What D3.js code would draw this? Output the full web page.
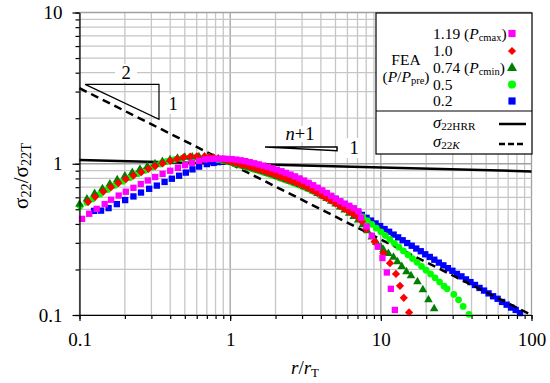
<!DOCTYPE html>
<html>
<head>
<meta charset="utf-8">
<script src="https://cdn.jsdelivr.net/npm/d3@7"></script>
<style>
  body { margin: 0; background: #fff; }
  svg text { font-family: "Liberation Serif", "Times New Roman", serif; fill: #000; }
</style>
</head>
<body>
<div id="chart"></div>
<script>
// FEA data, [r/rT, sigma22/sigma22T]
const fea119 = [
  [0.104,0.432],[0.116,0.467],[0.130,0.503],[0.147,0.541],[0.162,0.578],[0.182,0.616],[0.203,0.653],[0.228,0.693],
  [0.255,0.734],[0.284,0.775],[0.318,0.817],[0.356,0.858],[0.400,0.899],[0.450,0.940],[0.502,0.980],[0.557,1.015],[0.622,1.045],
  [0.676,1.068],[0.724,1.074],[0.776,1.078],[0.832,1.080],[0.891,1.080],[0.955,1.077],[1.023,1.073],[1.096,1.065],[1.175,1.054],
  [1.259,1.040],[1.349,1.024],[1.445,1.007],[1.549,0.990],[1.660,0.972],[1.778,0.953],[1.905,0.933],[2.042,0.913],[2.188,0.892],
  [2.344,0.870],[2.512,0.848],[2.692,0.825],[2.884,0.800],[3.090,0.774],[3.311,0.748],[3.548,0.721],[3.802,0.694],[4.074,0.667],
  [4.365,0.641],[4.677,0.614],[5.012,0.588],[5.370,0.565],[5.754,0.545],[6.166,0.527],[6.607,0.508],[7.079,0.485],
  [7.40,0.440],[8.05,0.385],[8.71,0.334],[9.55,0.283],[10.25,0.238],[10.96,0.191],[11.65,0.149],[12.39,0.108]
];
const fea100 = [
  [0.114,0.560],[0.127,0.605],[0.144,0.655],[0.162,0.700],[0.181,0.745],[0.203,0.790],[0.228,0.835],[0.257,0.880],
  [0.287,0.925],[0.318,0.965],[0.356,1.005],[0.400,1.045],[0.443,1.075],[0.490,1.100],[0.543,1.115],[0.601,1.120],
  [0.676,1.118],[0.724,1.110],[0.776,1.098],[0.832,1.084],[0.891,1.068],[0.955,1.050],[1.023,1.030],[1.096,1.010],[1.175,0.990],
  [1.259,0.970],[1.349,0.953],[1.445,0.935],[1.549,0.916],[1.660,0.897],[1.778,0.877],[1.905,0.857],[2.042,0.836],[2.188,0.815],
  [2.344,0.795],[2.512,0.775],[2.692,0.755],[2.884,0.735],[3.090,0.713],[3.311,0.690],[3.548,0.665],[3.802,0.640],[4.074,0.615],
  [4.365,0.592],[4.677,0.570],[5.012,0.548],[5.370,0.525],[5.754,0.503],[6.166,0.482],[6.607,0.462],[7.079,0.442],
  [7.50,0.415],[8.00,0.370],[9.10,0.306],[10.4,0.256],[11.5,0.220],[12.6,0.187],[13.4,0.156],[14.2,0.130],[15.4,0.104]
];
const fea074 = [
  [0.100,0.540],[0.112,0.585],[0.126,0.635],[0.142,0.685],[0.159,0.735],[0.178,0.785],[0.200,0.830],[0.224,0.875],
  [0.252,0.920],[0.282,0.960],[0.317,1.000],[0.355,1.035],[0.399,1.065],[0.447,1.090],[0.500,1.105],[0.560,1.110],[0.620,1.112],
  [0.676,1.108],[0.724,1.100],[0.776,1.088],[0.832,1.074],[0.891,1.058],[0.955,1.040],[1.023,1.020],[1.096,1.000],[1.175,0.980],
  [1.259,0.960],[1.349,0.942],[1.445,0.923],[1.549,0.904],[1.660,0.884],[1.778,0.864],[1.905,0.844],[2.042,0.824],[2.188,0.804],
  [2.344,0.784],[2.512,0.765],[2.692,0.746],[2.884,0.726],[3.090,0.705],[3.311,0.683],[3.548,0.660],[3.802,0.636],[4.074,0.612],
  [4.365,0.588],[4.677,0.565],[5.012,0.542],[5.370,0.518],[5.754,0.494],[6.166,0.470],[6.607,0.447],[7.079,0.425],
  [7.586,0.395],[8.128,0.360],[8.710,0.328],[9.333,0.302],[10.00,0.282],[10.40,0.270],[11.22,0.255],[12.13,0.241],[12.88,0.225],
  [13.77,0.209],[14.79,0.193],[15.85,0.182],[17.50,0.166],[19.01,0.147],[20.70,0.126],[22.59,0.110]
];
const fea050 = [
  [0.101,0.525],[0.112,0.555],[0.122,0.585],[0.137,0.630],[0.154,0.675],[0.172,0.720],[0.194,0.765],[0.217,0.810],
  [0.244,0.860],[0.273,0.905],[0.305,0.950],[0.343,0.995],[0.380,1.035],[0.427,1.065],[0.480,1.085],[0.540,1.095],[0.600,1.100],
  [0.676,1.098],[0.724,1.090],[0.776,1.080],[0.832,1.067],[0.891,1.052],[0.955,1.035],[1.023,1.015],[1.096,0.995],[1.175,0.975],
  [1.259,0.955],[1.349,0.936],[1.445,0.917],[1.549,0.898],[1.660,0.878],[1.778,0.858],[1.905,0.838],[2.042,0.818],[2.188,0.798],
  [2.344,0.779],[2.512,0.760],[2.692,0.741],[2.884,0.721],[3.090,0.701],[3.311,0.681],[3.548,0.660],[3.802,0.640],[4.074,0.620],
  [4.365,0.600],[4.677,0.580],[5.012,0.560],[5.370,0.540],[5.754,0.520],[6.166,0.501],[6.607,0.484],[7.079,0.467],
  [7.586,0.445],[8.128,0.420],[8.710,0.398],[9.333,0.375],[10.00,0.355],[10.72,0.335],[11.48,0.316],[12.30,0.298],[13.18,0.281],
  [14.13,0.265],[15.14,0.250],[16.22,0.236],[17.38,0.223],[18.62,0.210],[19.95,0.198],[21.38,0.187],[22.91,0.176],[24.55,0.165],
  [26.30,0.155],[27.54,0.149],[30.5,0.137],[32.8,0.126],[35.2,0.114],[38.5,0.101]
];
const fea020 = [
  [0.125,0.488],[0.139,0.490],[0.156,0.509],[0.177,0.541],[0.201,0.575],[0.228,0.608],[0.256,0.645],[0.290,0.683],
  [0.326,0.717],[0.367,0.758],[0.410,0.796],[0.458,0.833],[0.508,0.874],[0.562,0.918],[0.622,0.958],[0.700,0.995],
  [0.776,1.012],[0.832,1.025],[0.891,1.035],[0.955,1.040],[1.023,1.040],[1.096,1.037],[1.175,1.030],[1.259,1.020],[1.349,1.007],
  [1.445,0.992],[1.549,0.975],[1.660,0.957],[1.778,0.938],[1.905,0.918],[2.042,0.897],[2.188,0.875],[2.344,0.853],[2.512,0.830],
  [2.692,0.806],[2.884,0.782],[3.090,0.757],[3.311,0.732],[3.548,0.707],[3.802,0.682],[4.074,0.657],[4.365,0.633],[4.677,0.609],
  [5.012,0.585],[5.370,0.562],[5.754,0.540],[6.166,0.518],[6.607,0.497],[7.079,0.476],
  [7.48,0.459],[8.04,0.439],[8.61,0.421],[9.23,0.403],[9.89,0.387],[10.59,0.370],[11.35,0.355],[12.16,0.340],[13.03,0.326],
  [13.96,0.312],[14.96,0.299],[16.03,0.287],[17.18,0.275],[18.41,0.264],[19.72,0.252],[21.13,0.242],[22.65,0.232],[24.27,0.222],
  [26.00,0.213],[27.86,0.204],[29.85,0.196],[31.99,0.187],[34.28,0.180],[36.73,0.172],[39.36,0.165],[42.17,0.158],[45.19,0.151],
  [48.42,0.145],[51.88,0.139],[55.59,0.133],[59.57,0.128],[63.83,0.122],[68.39,0.117],[73.28,0.112],[78.52,0.108],[83.95,0.103]
];
// analytical lines: HRR field (slope -1/(n+1)) and K field (slope -1/2)
const sigmaHRR = [[0.1,1.06],[100,0.89]];
const sigmaK = [[0.1,3.16],[100,0.1]];

const xTickLabels = [0.1, 1, 10, 100];
const yTickLabels = [0.1, 1, 10];
const loadLabels = ["1.19", "1.0", "0.74", "0.5", "0.2"];

(() => {
  const W = 550, H = 383;
  const L = 79.5, R = 531.5, T = 12.5, B = 315;
  const svg = d3.select("#chart").append("svg").attr("width", W).attr("height", H);

  const x = d3.scaleLog().domain([0.1, 100]).range([L, R]);
  const y = d3.scaleLog().domain([0.1, 10]).range([B, T]);

  // 1..9 x each decade
  const minors = dom => {
    const out = [];
    for (let d = dom[0]; d < dom[1] * 0.999; d *= 10)
      for (let k = 1; k < 10; k++) out.push(+(d * k).toPrecision(3));
    out.push(dom[1]);
    return out;
  };
  const xMinor = minors(x.domain()), yMinor = minors(y.domain());
  const isDecade = v => Math.abs(Math.log10(v) - Math.round(Math.log10(v))) < 1e-6;

  // grid
  const grid = svg.append("g");
  grid.selectAll("line.gx").data(xMinor).join("line")
    .attr("x1", d => x(d)).attr("x2", d => x(d)).attr("y1", T).attr("y2", B)
    .attr("stroke", d => isDecade(d) ? "#a0a0a0" : "#c6c6c6").attr("stroke-width", 1.3);
  grid.selectAll("line.gy").data(yMinor).join("line")
    .attr("y1", d => y(d)).attr("y2", d => y(d)).attr("x1", L).attr("x2", R)
    .attr("stroke", d => isDecade(d) ? "#a0a0a0" : "#c6c6c6").attr("stroke-width", 1.3);

  const line = d3.line().x(d => x(d[0])).y(d => y(d[1]));

  // solid HRR line
  svg.append("path").attr("d", line(sigmaHRR))
    .attr("fill", "none").attr("stroke", "#000").attr("stroke-width", 2.5);

  const sym = (type, size) => d3.symbol().type(type).size(size)();
  const drawSeries = (data, path, color, rot) => {
    svg.append("g").selectAll("path").data(data).join("path")
      .attr("d", path)
      .attr("transform", d => `translate(${x(d[0])},${y(d[1])})` + (rot ? " rotate(45)" : ""))
      .attr("fill", color);
  };

  drawSeries(fea020, sym(d3.symbolSquare, 40), "#0000ff");

  // dashed K line
  svg.append("path").attr("d", line(sigmaK))
    .attr("fill", "none").attr("stroke", "#000").attr("stroke-width", 2.5)
    .attr("stroke-dasharray", "8,5");

  drawSeries(fea050, sym(d3.symbolCircle, 36), "#00ff00");
  drawSeries(fea074, sym(d3.symbolTriangle, 32), "#008000");
  drawSeries(fea100, sym(d3.symbolSquare, 34), "#ff0000", true);
  drawSeries(fea119, sym(d3.symbolSquare, 40), "#ff00ff");

  // axes
  const fnt = g => g.attr("font-family", "Liberation Serif, Times New Roman, serif").attr("font-size", 19);
  svg.append("g").attr("transform", `translate(${L},0)`)
    .call(d3.axisLeft(y).tickValues(yMinor).tickSize(4).tickSizeOuter(0).tickFormat(""))
    .call(g => g.selectAll("line, path").attr("stroke", "#000").attr("stroke-width", 1.2));
  svg.append("g").attr("transform", `translate(${L},0)`)
    .call(d3.axisLeft(y).tickValues(yTickLabels).tickSize(7).tickPadding(10).tickFormat(d3.format("~g")))
    .call(fnt)
    .call(g => g.select(".domain").remove())
    .call(g => g.selectAll("line").attr("stroke", "#000").attr("stroke-width", 1.2));
  svg.append("g").attr("transform", `translate(0,${B})`)
    .call(d3.axisBottom(x).tickValues(xMinor).tickSize(4).tickSizeOuter(0).tickFormat(""))
    .call(g => g.selectAll("line, path").attr("stroke", "#000").attr("stroke-width", 1.2));
  svg.append("g").attr("transform", `translate(0,${B})`)
    .call(d3.axisBottom(x).tickValues(xTickLabels).tickSize(6).tickPadding(12).tickFormat(d3.format("~g")))
    .call(fnt)
    .call(g => g.select(".domain").remove())
    .call(g => g.selectAll("line").attr("stroke", "#000").attr("stroke-width", 1.2));

  // rich text helper: parts = [[text, {italic, sub}]]
  const rich = (sel, parts, size) => {
    parts.forEach(([t, o = {}]) => {
      const s = sel.append("tspan").text(t)
        .attr("font-size", o.sub ? size * 0.68 : size)
        .attr("font-style", o.italic ? "italic" : "normal");
      if (o.sub) s.attr("baseline-shift", "-22%");
    });
    return sel;
  };

  // axis titles
  rich(svg.append("text").attr("x", 305).attr("y", 374).attr("text-anchor", "middle"),
    [["r", {italic: true}], ["/"], ["r", {italic: true}], ["T", {sub: true}]], 19);
  rich(svg.append("text").attr("transform", "translate(28,176) rotate(-90)").attr("text-anchor", "middle"),
    [["σ"], ["22", {sub: true}], ["/"], ["σ"], ["22T", {sub: true}]], 21);

  // slope triangles
  const tri1 = [[0.109, 3.35], [0.337, 3.35], [0.337, 1.967]];
  svg.append("path").attr("d", d3.line().x(d => x(d[0])).y(d => y(d[1])).curve(d3.curveLinearClosed)(tri1))
    .attr("fill", "none").attr("stroke", "#000").attr("stroke-width", 1.2);
  const box = (cx, cy, w, h) => svg.append("rect").attr("x", cx - w / 2).attr("y", cy - h / 2)
    .attr("width", w).attr("height", h).attr("fill", "#fff");
  box(126, 73, 22, 18);
  svg.append("text").attr("x", 126).attr("y", 79).attr("text-anchor", "middle").attr("font-size", 18.5).text("2");
  box(173, 104, 20, 20);
  svg.append("text").attr("x", 173).attr("y", 110).attr("text-anchor", "middle").attr("font-size", 18.5).text("1");

  const tri2 = [[1.703, 1.29], [5.12, 1.29], [5.12, 1.22]];
  svg.append("path").attr("d", d3.line().x(d => x(d[0])).y(d => y(d[1])).curve(d3.curveLinearClosed)(tri2))
    .attr("fill", "#fff").attr("stroke", "#000").attr("stroke-width", 1.5);
  box(300, 134, 38, 16);
  rich(svg.append("text").attr("x", 300).attr("y", 140).attr("text-anchor", "middle"),
    [["n", {italic: true}], ["+1"]], 18.5);
  box(354, 148, 20, 20);
  svg.append("text").attr("x", 354).attr("y", 154).attr("text-anchor", "middle").attr("font-size", 18.5).text("1");

  // legend
  const lg = svg.append("g");
  lg.append("rect").attr("x", 376).attr("y", 13).attr("width", 156).attr("height", 141)
    .attr("fill", "#fff").attr("stroke", "#000").attr("stroke-width", 1.2);
  lg.append("line").attr("x1", 376).attr("x2", 532).attr("y1", 111).attr("y2", 111)
    .attr("stroke", "#000").attr("stroke-width", 1.2);
  const fs = 15.5;
  rich(lg.append("text").attr("x", 406).attr("y", 65).attr("text-anchor", "middle"), [["FEA"]], fs);
  rich(lg.append("text").attr("x", 406).attr("y", 82).attr("text-anchor", "middle"),
    [["("], ["P", {italic: true}], ["/"], ["P", {italic: true}], ["pre", {sub: true}], [")"]], fs);
  const rows = [
    [[loadLabels[0] + " ("], ["P", {italic: true}], ["cmax", {sub: true}], [")"]],
    [[loadLabels[1]]],
    [[loadLabels[2] + " ("], ["P", {italic: true}], ["cmin", {sub: true}], [")"]],
    [[loadLabels[3]]],
    [[loadLabels[4]]]
  ];
  const rowY = [33.5, 51, 68, 84.5, 101];
  const legSym = [
    [sym(d3.symbolSquare, 52), "#ff00ff", false],
    [sym(d3.symbolSquare, 34), "#ff0000", true],
    [sym(d3.symbolTriangle, 44), "#008000", false],
    [sym(d3.symbolCircle, 52), "#00ff00", false],
    [sym(d3.symbolSquare, 52), "#0000ff", false]
  ];
  rows.forEach((parts, i) => {
    rich(lg.append("text").attr("x", 433).attr("y", rowY[i] + 5), parts, fs);
    lg.append("path").attr("d", legSym[i][0]).attr("fill", legSym[i][1])
      .attr("transform", `translate(512,${rowY[i]})` + (legSym[i][2] ? " rotate(45)" : ""));
  });
  rich(lg.append("text").attr("x", 433).attr("y", 128),
    [["σ", {italic: true}], ["22HRR", {sub: true}]], fs + 1);
  rich(lg.append("text").attr("x", 433).attr("y", 147),
    [["σ", {italic: true}], ["22", {sub: true}], ["K", {sub: true, italic: true}]], fs + 1);
  lg.append("line").attr("x1", 499).attr("x2", 526).attr("y1", 124).attr("y2", 124)
    .attr("stroke", "#000").attr("stroke-width", 2.5);
  lg.append("line").attr("x1", 499).attr("x2", 526).attr("y1", 144).attr("y2", 144)
    .attr("stroke", "#000").attr("stroke-width", 2.5).attr("stroke-dasharray", "6,3");
})();
</script>
</body>
</html>
